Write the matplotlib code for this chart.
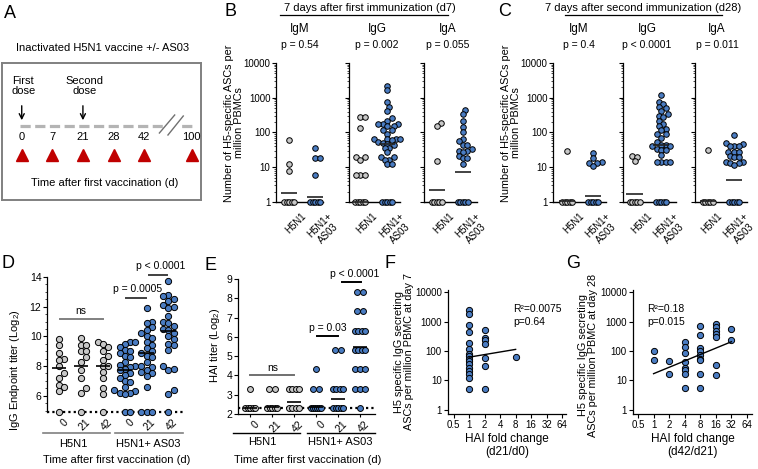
import numpy as np
import matplotlib
matplotlib.use("Agg")
import matplotlib.pyplot as plt
from matplotlib.ticker import FixedLocator, NullFormatter, LogLocator, MultipleLocator

plt.rcParams['font.family'] = ['Liberation Sans', 'DejaVu Sans']
plt.rcParams['mathtext.fontset'] = 'custom'
plt.rcParams['mathtext.rm'] = 'Liberation Sans'
plt.rcParams['mathtext.it'] = 'Liberation Sans:italic'

# ---------------- data ----------------
A_days = [0, 7, 21, 28, 42, 100]

groups2 = ['H5N1', 'H5N1+\nAS03']
ASC_ticks = [1, 10, 100, 1000, 10000]
ASC_ticklabels = ['1', '10', '100', '1000', '10000']

# Panel B: d7 ASCs per million PBMC (value 1 = none detected)
B_IgM_H5N1 = [59, 12, 7.6, 1, 1, 1, 1, 1]
B_IgM_AS03 = [37, 19, 19, 6, 1, 1, 1, 1, 1]
B_IgG_H5N1 = [275, 275, 134, 19.5, 19.5, 16, 5.9, 5.9, 5.9, 1, 1, 1, 1, 1]
B_IgG_AS03 = [2230, 1650, 730, 535, 415, 257, 209, 179, 179, 179, 152, 152, 115, 115,
              90, 66, 66, 66, 66, 60, 55, 50, 48, 45, 35, 35, 27, 20, 20, 16, 16, 12, 12,
              1, 1, 1, 1, 1]
B_IgA_H5N1 = [187, 158, 15, 1, 1, 1, 1, 1]
B_IgA_AS03 = [436, 337, 217, 146, 104, 65, 56, 45, 45, 34, 30, 30, 27, 21, 19, 19, 12,
              1, 1, 1, 1, 1]
B_IgM_means = [1.76, 1.37]
B_IgG_means = [1.0, 48]
B_IgA_means = [2.26, 7.3]
B_isotypes = ['IgM', 'IgG', 'IgA']
B_pvals = ['p = 0.54', 'p = 0.002', 'p = 0.055']

# Panel C: d28 ASCs per million PBMC
C_IgM_H5N1 = [30, 1, 1, 1, 1, 1]
C_IgM_AS03 = [26, 19, 14, 13, 13, 11, 1, 1, 1, 1, 1]
C_IgG_H5N1 = [21, 19.5, 15, 1, 1, 1, 1, 1]
C_IgG_AS03 = [1200, 730, 660, 535, 510, 405, 330, 297, 275, 217, 179, 152, 123, 115, 90, 90,
              70, 53, 45, 43, 41, 41, 34, 32, 32, 22, 14, 14, 14, 14, 1, 1, 1, 1, 1]
C_IgA_H5N1 = [32, 1, 1, 1, 1, 1]
C_IgA_AS03 = [85, 51, 48, 41, 41, 41, 28, 28, 28, 21, 20, 20, 14, 14, 13, 13, 11.5,
              1, 1, 1, 1, 1]
C_IgM_means = [1.05, 1.5]
C_IgG_means = [1.72, 45]
C_IgA_means = [1.05, 4.2]
C_pvals = ['p = 0.4', 'p < 0.0001', 'p = 0.011']

# Panel D: IgG endpoint titer (log2); 4.9 = below detection
D_days = ['0', '21', '42', '0', '21', '42']
D_H5N1_d0 = [9.8, 9.4, 8.9, 8.5, 8.4, 8.0, 7.5, 7.2, 6.7, 6.6, 6.3, 4.9]
D_H5N1_d21 = [9.9, 9.4, 9.4, 9.0, 9.0, 8.6, 8.3, 7.7, 7.2, 6.5, 6.2, 4.9]
D_H5N1_d42 = [9.6, 9.5, 9.3, 9.0, 8.7, 8.4, 8.0, 8.0, 7.6, 7.2, 6.5, 6.1, 4.9]
D_AS03_d0 = [9.6, 9.6, 9.5, 9.3, 9.1, 9.0, 8.9, 8.7, 8.6, 8.3, 8.1, 8.0, 7.9, 7.8, 7.7,
             7.5, 7.4, 7.2, 7.0, 6.9, 6.6, 6.4, 6.3, 6.2, 6.2, 6.1, 4.9, 4.9]
D_AS03_d21 = [11.9, 11.0, 10.9, 10.6, 10.4, 10.2, 10.0, 9.9, 9.6, 9.4, 9.2, 9.0, 8.9, 8.7,
              8.6, 8.3, 8.0, 7.9, 7.7, 7.6, 7.5, 7.3, 6.6, 4.9, 4.9, 4.9]
D_AS03_d42 = [13.7, 12.8, 12.7, 12.5, 12.4, 12.1, 12.0, 11.9, 11.4, 11.0, 10.9, 10.7, 10.5,
              10.4, 10.2, 10.0, 9.8, 9.5, 9.4, 9.1, 8.0, 7.8, 7.7, 6.4, 6.1, 4.9]
D_means = [7.85, 8.0, 8.0, 7.75, 8.85, 10.35]
D_limit = 4.9

# Panel E: HAI titer (log2)
E_H5N1_d0 = [3.32] + [2.32] * 5
E_H5N1_d21 = [3.32] * 2 + [2.32] * 5
E_H5N1_d42 = [3.32] * 4 + [2.32] * 4
E_AS03_d0 = [4.32] + [3.32] * 2 + [2.32] * 6
E_AS03_d21 = [5.32] * 2 + [3.32] * 4 + [2.32] * 5
E_AS03_d42 = [8.32] * 2 + [7.32] * 2 + [6.32] * 4 + [5.32] * 4 + [4.32] * 3 + [3.32] * 3 + [2.32]
E_means = [2.32, 2.36, 2.61, 2.36, 2.76, 5.5]
E_limit = 2.32

# Panel F: HAI fold change d21/d0 vs IgG ASCs d7
F_fold = [1] * 16 + [2] * 7 + [8]
F_asc = [2440, 1790, 790, 445, 187, 120, 81, 66, 55, 46, 35, 27, 21, 16, 12, 5.2,
         534, 283, 230, 169, 59, 32, 5.2,
         63]
F_fit_x = [1, 8]
F_fit_y = [62, 114]
F_stats = ['R²=0.0075', 'p=0.64']

# Panel G: HAI fold change d42/d21 vs IgG ASCs d28
G_fold = [1, 1, 2, 2] + [4] * 8 + [8] * 9 + [16] * 7 + [32] * 2
G_asc = [103, 50, 47, 16,
         203, 137, 85, 44, 27, 23, 16, 5.5,
         730, 360, 126, 103, 71, 55, 48, 16, 5.5,
         830, 660, 500, 390, 300, 34, 15,
         560, 245]
G_fit_x = [1, 32]
G_fit_y = [17, 208]
G_stats = ['R²=0.18', 'p=0.015']
fold_ticks = [0.5, 1, 2, 4, 8, 16, 32, 64]
fold_labels = ['0.5', '1', '2', '4', '8', '16', '32', '64']

# ---------------- styling ----------------
GREY = '#c8c8c8'
BLUE = '#4a7cc2'
W, H = 758, 469
fig = plt.figure(figsize=(W / 100, H / 100), dpi=100)


def px_axes(x0, y0, x1, y1):
    ax = fig.add_axes([x0 / W, 1 - y1 / H, (x1 - x0) / W, (y1 - y0) / H])
    ax.patch.set_visible(False)
    return ax


ov = px_axes(0, 0, W, H)
ov.set_xlim(0, W)
ov.set_ylim(H, 0)
ov.axis('off')


def T(x, y, s, size=8, **kw):
    kw.setdefault('ha', 'center')
    kw.setdefault('va', 'center')
    ov.text(x, y, s, fontsize=size, **kw)


def swarm_x(ax, xc, vals, d):
    vals = np.asarray(vals, float)
    if len(vals) == 0:
        return vals
    pts = ax.transData.transform(np.column_stack([np.full(len(vals), xc), vals]))
    order = np.argsort(pts[:, 1], kind='stable')
    cands = [0.0]
    for k in range(1, 40):
        cands += [k * d / 2, -k * d / 2]
    placed = []
    xs = np.empty(len(vals))
    for i in order:
        px, py = pts[i]
        cx = px
        for c in cands:
            cx = px + c
            if all((cx - qx) ** 2 + (py - qy) ** 2 >= d * d - 1e-6 for qx, qy in placed):
                break
        placed.append((cx, py))
        xs[i] = cx
    return ax.transData.inverted().transform(np.column_stack([xs, pts[:, 1]]))[:, 0]


def row_x(ax, xc, n, val):
    sp = min(6.2, 10.0 / (n - 1)) if n > 1 else 0
    p = ax.transData.transform([(xc, val)])[0]
    xs = p[0] + (np.arange(n) - (n - 1) / 2) * sp
    return ax.transData.inverted().transform(np.column_stack([xs, np.full(n, p[1])]))[:, 0]


def dots(ax, xs, ys, col, s=17):
    ax.scatter(xs, ys, s=s, c=col, edgecolors='black', linewidths=0.7, zorder=4, clip_on=False)


def rot_labels(ax, labels, dx, dy, size=7):
    for i, lab in enumerate(labels):
        ax.annotate(lab, xy=(i, 0), xycoords=('data', 'axes fraction'),
                    xytext=(dx, dy), textcoords='offset pixels', rotation=45,
                    ha='right', va='top', rotation_mode='anchor', fontsize=size,
                    multialignment='center', annotation_clip=False)


def asc_panel(x0, x1, xlim, h5, as03, means, label_y, dx=12):
    ax = px_axes(x0, 63, x1, 202)
    ax.set_yscale('log')
    ax.set_ylim(1, 1e4)
    ax.set_xlim(*xlim)
    for s in ('top', 'right'):
        ax.spines[s].set_visible(False)
    ax.spines['left'].set_linewidth(0.9)
    ax.spines['bottom'].set_linewidth(1.0)
    ax.yaxis.set_major_locator(FixedLocator(ASC_ticks))
    ax.yaxis.set_minor_locator(LogLocator(base=10, subs=np.arange(2, 10)))
    ax.yaxis.set_minor_formatter(NullFormatter())
    ax.set_yticklabels(ASC_ticklabels if label_y else [''] * len(ASC_ticks))
    ax.tick_params(axis='y', which='major', length=3, width=0.8, labelsize=7, pad=1)
    ax.tick_params(axis='y', which='minor', length=1.5, width=0.5)
    ax.set_xticks([])
    rot_labels(ax, groups2, dx, -9)
    for i, (vals, col) in enumerate([(h5, GREY), (as03, BLUE)]):
        vals = np.asarray(vals, float)
        hi = vals[vals > 1]
        base = vals[vals <= 1]
        dots(ax, swarm_x(ax, i, hi, 4.4), hi, col, s=16)
        if len(base):
            dots(ax, row_x(ax, i, len(base), 1.0), base, col, s=16)
        ax.plot([i - 0.3, i + 0.3], [means[i]] * 2, color='#222222', lw=1.2, zorder=5,
                clip_on=False, solid_capstyle='butt')
    return ax


# ---------------- Panel A ----------------
T(10, 13, 'A', 13)
T(103, 48, 'Inactivated H5N1 vaccine +/- AS03', 8)
axT = px_axes(2, 63, 201, 200)
pos = np.arange(len(A_days), dtype=float)
pos[-1] += 0.56
axT.set_xlim(-0.645, 5.86)
axT.set_ylim(200 - 63, 0)
axT.set_xticks([])
axT.set_yticks([])
for s in axT.spines.values():
    s.set_color('#808080')
    s.set_linewidth(1.4)
ly = 125.7 - 63
axT.plot([pos[0] - 0.05, pos[-1]], [ly, ly], color='#b4b4b4', lw=2.3, dashes=(3.2, 1.4),
         solid_capstyle='butt', dash_capstyle='butt', zorder=1)
axT.fill_between([4.62, 5.15], ly - 6, ly + 6, color='white', zorder=2)
axT.plot([4.5, 5.0], [133 - 63, 115 - 63], color='#707070', lw=1.0, zorder=3)
axT.plot([4.78, 5.28], [135 - 63, 116 - 63], color='#707070', lw=1.0, zorder=3)
for p, d in zip(pos, A_days):
    axT.text(p, 136.7 - 63, str(d), ha='center', va='center', fontsize=8, clip_on=True)
axT.plot(pos, [155 - 63] * len(pos), linestyle='none', marker='^', markersize=8.5,
         color='#c00000', clip_on=True)
for idx, lab in [(0, 'First\ndose'), (2, 'Second\ndose')]:
    axT.text(pos[idx] + 0.05, 86 - 63, lab, ha='center', va='center', fontsize=8, linespacing=1.05)
    axT.annotate('', xy=(pos[idx], 123 - 63), xytext=(pos[idx], 103 - 63),
                 arrowprops=dict(arrowstyle='->', lw=1.0, color='black', mutation_scale=9))
axT.text(2.71, 183.5 - 63, 'Time after first vaccination (d)', ha='center', va='center', fontsize=8)

# ---------------- Panel B ----------------
T(230, 12, 'B', 13)
T(370, 8, '7 days after first immunization (d7)', 8)
ov.plot([280, 448], [15.5, 15.5], color='black', lw=0.9)
bB1 = asc_panel(276, 323, (-0.5, 1.3), B_IgM_H5N1, B_IgM_AS03, B_IgM_means, True)
bB2 = asc_panel(349, 400, (-0.42, 1.48), B_IgG_H5N1, B_IgG_AS03, B_IgG_means, False)
bB3 = asc_panel(424, 477, (-0.5, 1.54), B_IgA_H5N1, B_IgA_AS03, B_IgA_means, False)
for xc, iso, pv in zip([300, 377, 448], B_isotypes, B_pvals):
    T(xc, 29, iso, 8.5)
    T(xc, 45, pv, 7.5)
T(234, 123, 'Number of H5-specific ASCs per\nmillion PBMCs', 7.8, rotation=90, linespacing=1.0)

# ---------------- Panel C ----------------
T(505, 12, 'C', 13)
T(643, 8, '7 days after second immunization (d28)', 8)
ov.plot([565, 722], [15.5, 15.5], color='black', lw=0.9)
cC1 = asc_panel(553, 606, (-0.54, 1.5), C_IgM_H5N1, C_IgM_AS03, C_IgM_means, True)
cC2 = asc_panel(623, 676, (-0.43, 1.55), C_IgG_H5N1, C_IgG_AS03, C_IgG_means, False)
cC3 = asc_panel(695, 747, (-0.48, 1.47), C_IgA_H5N1, C_IgA_AS03, C_IgA_means, False, dx=9)
for xc, iso, pv in zip([579, 647, 717], B_isotypes, C_pvals):
    T(xc, 29, iso, 8.5)
    T(xc, 45, pv, 7.5)
T(511, 123, 'Number of H5-specific ASCs per\nmillion PBMCs', 7.8, rotation=90, linespacing=1.0)


# ---------------- Panel D ----------------
def titer_axes(x0, y0, x1, y1):
    ax = px_axes(x0, y0, x1, y1)
    for s in ('top', 'right'):
        ax.spines[s].set_visible(False)
    ax.spines['left'].set_linewidth(0.9)
    return ax


T(8, 263, 'D', 13)
axD = titer_axes(47, 277, 183, 412)
axD.set_ylim(D_limit, 14)
axD.set_xlim(-0.56, 5.67)
axD.spines['bottom'].set_visible(False)
axD.set_yticks([6, 8, 10, 12, 14])
axD.yaxis.set_minor_locator(MultipleLocator(0.5))
axD.tick_params(axis='y', which='major', length=3, width=0.8, labelsize=7.5, pad=1)
axD.tick_params(axis='y', which='minor', length=1.5, width=0.5)
axD.set_xticks([])
axD.axhline(D_limit, color='black', lw=1.6, linestyle=(0, (1, 1.4)), zorder=2, clip_on=False)
D_sets = [D_H5N1_d0, D_H5N1_d21, D_H5N1_d42, D_AS03_d0, D_AS03_d21, D_AS03_d42]
for i, vals in enumerate(D_sets):
    col = GREY if i < 3 else BLUE
    dots(axD, swarm_x(axD, i, vals, 5.2), vals, col, s=20)
    axD.plot([i - 0.33, i + 0.33], [D_means[i]] * 2, color='black', lw=1.2, zorder=5,
             solid_capstyle='butt')
rot_labels(axD, D_days, 4, -5, size=7.5)
axD.plot([0.05, 2.0], [11.17, 11.17], color='#808080', lw=1.4, clip_on=False)
axD.text(1.0, 11.4, 'ns', ha='center', va='bottom', fontsize=7.5)
axD.plot([3.07, 3.98], [12.6, 12.6], color='#404040', lw=1.4, clip_on=False)
axD.text(3.6, 12.85, 'p = 0.0005', ha='center', va='bottom', fontsize=7.5)
axD.plot([4.1, 4.95], [14.15, 14.15], color='#404040', lw=1.4, clip_on=False)
axD.text(4.65, 14.4, 'p < 0.0001', ha='center', va='bottom', fontsize=7.5, clip_on=False)
T(15, 370, 'IgG Endpoint titer (Log$_2$)', 8, rotation=90)
ov.plot([43, 110], [433, 433], color='#808080', lw=1.2)
ov.plot([115, 183], [433, 433], color='#808080', lw=1.2)
T(73, 444, 'H5N1', 8)
T(148, 444, 'H5N1+ AS03', 8)
T(117, 460, 'Time after first vaccination (d)', 8)

# ---------------- Panel E ----------------
T(210, 265, 'E', 13)
axE = titer_axes(238, 279, 375, 414)
axE.set_ylim(2, 9)
axE.set_xlim(-0.55, 5.68)
axE.spines['bottom'].set_linewidth(0.9)
axE.set_yticks(range(2, 10))
axE.tick_params(axis='y', length=3, width=0.8, labelsize=7.5, pad=1)
axE.set_xticks(range(6))
axE.set_xticklabels([])
axE.tick_params(axis='x', length=2.5, width=0.8)
axE.axhline(E_limit, color='black', lw=1.6, linestyle=(0, (1, 1.4)), zorder=2, clip_on=False)
E_sets = [E_H5N1_d0, E_H5N1_d21, E_H5N1_d42, E_AS03_d0, E_AS03_d21, E_AS03_d42]
for i, vals in enumerate(E_sets):
    col = GREY if i < 3 else BLUE
    vals = np.asarray(vals)
    for v in np.unique(vals):
        n = int(np.sum(vals == v))
        dots(axE, row_x(axE, i, n, v), [v] * n, col, s=18)
    axE.plot([i - 0.33, i + 0.33], [E_means[i]] * 2, color='black', lw=1.2, zorder=5,
             solid_capstyle='butt')
rot_labels(axE, D_days, 4, -5, size=7.5)
axE.plot([0.0, 2.0], [4.03, 4.03], color='#707070', lw=1.4)
axE.text(1.02, 4.15, 'ns', ha='center', va='bottom', fontsize=7.5)
axE.plot([3.05, 4.0], [6.07, 6.07], color='black', lw=1.4)
axE.text(3.55, 6.2, 'p = 0.03', ha='center', va='bottom', fontsize=7.5)
axE.plot([4.2, 5.05], [8.87, 8.87], color='black', lw=1.4)
axE.text(4.75, 9.0, 'p < 0.0001', ha='center', va='bottom', fontsize=7.5, clip_on=False)
T(215, 345, 'HAI titer (Log$_2$)', 8, rotation=90)
ov.plot([233, 300], [433, 433], color='black', lw=1.0)
ov.plot([307, 375], [433, 433], color='black', lw=1.0)
T(262, 442, 'H5N1', 8)
T(340, 442, 'H5N1+ AS03', 8)
T(308, 460, 'Time after first vaccination (d)', 8)


# ---------------- Panels F, G ----------------
def corr_axes(x0, x1, xlim, fx, fy, fitx, fity, stats, xlab):
    ax = px_axes(x0, 290, x1, 414)
    ax.set_xscale('log', base=2)
    ax.set_yscale('log')
    ax.set_xlim(*xlim)
    ax.set_ylim(0.72, 12000)
    for s in ('top', 'right'):
        ax.spines[s].set_visible(False)
    for s in ('left', 'bottom'):
        ax.spines[s].set_linewidth(0.9)
    ax.xaxis.set_major_locator(FixedLocator(fold_ticks))
    ax.set_xticklabels(fold_labels)
    ax.xaxis.set_minor_locator(FixedLocator([]))
    ax.yaxis.set_major_locator(FixedLocator(ASC_ticks))
    ax.set_yticklabels(ASC_ticklabels)
    ax.yaxis.set_minor_locator(FixedLocator([]))
    ax.tick_params(length=3, width=0.8, labelsize=7, pad=1.5)
    dots(ax, fx, fy, BLUE, s=20)
    ax.plot(fitx, fity, color='black', lw=1.0, zorder=5)
    ax.set_xlabel(xlab, fontsize=8.5, labelpad=2, linespacing=1.1)
    return ax


T(390, 263, 'F', 13)
axF = corr_axes(448, 566, (0.39, 76), F_fold, F_asc, F_fit_x, F_fit_y, F_stats,
                'HAI fold change\n(d21/d0)')
T(513, 309, F_stats[0], 7.5, ha='left')
T(513, 322, F_stats[1], 7.5, ha='left')
T(404, 352, 'H5 specific IgG secreting\nASCs per million PBMC at day 7', 7.8, rotation=90, linespacing=1.0)

T(573, 263, 'G', 13)
axG = corr_axes(633, 752, (0.4, 80), G_fold, G_asc, G_fit_x, G_fit_y, G_stats,
                'HAI fold change\n(d42/d21)')
T(647, 309, G_stats[0], 7.5, ha='left')
T(647, 322, G_stats[1], 7.5, ha='left')
T(588, 355, 'H5 specific IgG secreting\nASCs per million PBMC at day 28', 7.8, rotation=90, linespacing=1.0)

fig.savefig('out.png', dpi=100)
